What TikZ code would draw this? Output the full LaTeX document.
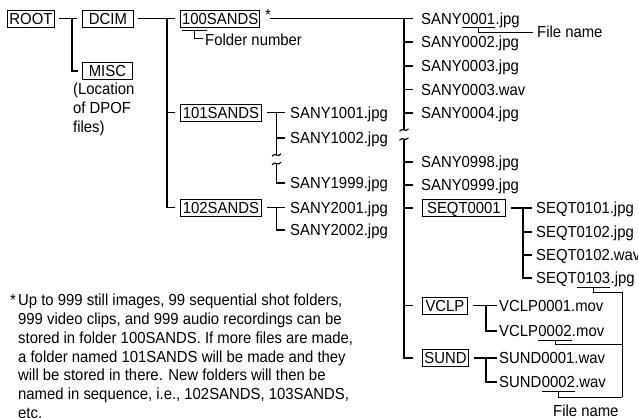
\documentclass[tikz,border=0pt]{standalone}
\usepackage{fontspec}
\setmainfont{Liberation Sans}[FakeStretch=0.93]
\begin{document}
\begin{tikzpicture}[x=1pt,y=-1pt,
  font=\fontsize{16}{18.7}\selectfont,
  box/.style={draw, line width=0.9pt, inner xsep=2pt, inner ysep=0pt, minimum height=17pt, text height=11.5pt, text depth=0pt, anchor=west},
  file/.style={inner sep=0pt, text height=11.5pt, text depth=0pt, anchor=west},
  ln/.style={line width=1.3pt},
  uline/.style={line width=1pt},
  brk/.pic={\draw[line width=1.1pt] (-4.5,1.2) .. controls (-1.5,-3) and (1.5,3) .. (4.5,-1.2);}
]
\useasboundingbox (0,0) rectangle (638,418);

% ---- left part
\node[box, minimum width=46pt] (root) at (7,18.5) {ROOT};
\node[box, minimum width=51pt] (dcim) at (82,18.5) {DCIM};
\node[box, minimum width=50pt] (misc) at (82,71) {MISC};
\node[file] (loc1) at (73,89) {(Location};
\node[file] (loc2) at (73,108) {of DPOF};
\node[file] (loc3) at (73,127) {files)};

\draw[ln] ([xshift=4pt]root.east) -- ([xshift=-5pt]dcim.west);
\coordinate (rj) at (72,18.5);
\draw[ln] (rj) |- ([xshift=-4pt]misc.west);

% ---- folders
\node[box, inner xsep=1.7pt] (s100) at (180,18.5) {100SANDS};
\node[file] (u100) at ([xshift=1.7pt]s100.west) {\phantom{100}};
\node[file] (ast) at (265,15) {*};
\node[file] (fnum) at (205,40) {Folder number};
\draw[uline] ([yshift=-6pt]u100.south west) -- ([yshift=-6pt]u100.south east);
\draw[uline] ([yshift=-6pt]u100.south) |- ([xshift=-2pt,yshift=2pt]fnum.west);

\node[box, minimum width=81pt] (s101) at (180,112.5) {101SANDS};
\node[box, minimum width=81pt] (s102) at (180,207.5) {102SANDS};

\draw[ln] ([xshift=4pt]dcim.east) -- ([xshift=-5pt]s100.west);
\coordinate (dj) at (167,18.5);
\draw[ln] (dj) |- ([xshift=-5pt]s102.west);
\draw[ln] (dj |- s101.west) -- ([xshift=-5pt]s101.west);

% ---- 101SANDS
\node[file] (b1) at (290,112.5) {SANY1001.jpg};
\node[file] (b2) at (290,138) {SANY1002.jpg};
\node[file] (b3) at (290,183) {SANY1999.jpg};
\draw[ln] ([xshift=5pt]s101.east) -- ([xshift=-5pt]b1.west);
\coordinate (j101) at (276.5,112.5);
\coordinate (j101t) at (276.5,155);
\coordinate (j101b) at (276.5,163.5);
\draw[ln] (j101) -- (j101t);
\pic at (j101t) {brk};
\pic at (j101b) {brk};
\draw[ln] (j101b) |- ([xshift=-5pt]b3.west);
\draw[ln] (j101 |- b2.west) -- ([xshift=-5pt]b2.west);

% ---- 102SANDS
\node[file] (c1) at (290,207.5) {SANY2001.jpg};
\node[file] (c2) at (290,230) {SANY2002.jpg};
\draw[ln] ([xshift=5pt]s102.east) -- ([xshift=-5pt]c1.west);
\coordinate (j102) at (276.5,207.5);
\draw[ln] (j102) |- ([xshift=-5pt]c2.west);

% ---- 100SANDS contents
\node[file] (a1a) at (421,18.5) {SANY};
\node[file] (a1b) at (a1a.east) {0001};
\node[file] (a1c) at (a1b.east) {.jpg};
\node[file] (a2) at (421,42) {SANY0002.jpg};
\node[file] (a3) at (421,66) {SANY0003.jpg};
\node[file] (a4) at (421,89.5) {SANY0003.wav};
\node[file] (a5) at (421,113) {SANY0004.jpg};
\node[file] (a6) at (421,162) {SANY0998.jpg};
\node[file] (a7) at (421,185) {SANY0999.jpg};
\node[box, minimum width=83pt] (seqt) at (422,208) {SEQT0001};
\node[box, minimum width=45pt] (vclp) at (422,305.5) {VCLP};
\node[box, minimum width=46pt] (sund) at (422,358) {SUND};

\draw[ln] ([xshift=10pt]s100.east) -- ([xshift=-8pt]a1a.west);
\coordinate (mj) at (404,18.5);
\coordinate (mjt) at (404,130);
\coordinate (mjb) at (404,139);
\draw[ln] (mj) -- (mjt);
\pic at (mjt) {brk};
\pic at (mjb) {brk};
\draw[ln] (mjb) -- (mj |- sund.west) -- ([xshift=-9pt]sund.west);
\foreach \n in {a2,a3,a4,a5,a6,a7}
  \draw[ln] (mj |- \n.west) -- ([xshift=-8pt]\n.west);
\draw[ln] (mj |- seqt.west) -- ([xshift=-9pt]seqt.west);
\draw[ln] (mj |- vclp.west) -- ([xshift=-9pt]vclp.west);

% File name (top)
\node[file] (fn1) at (537,32) {File name};
\draw[uline] ([yshift=-3.5pt]a1b.south west) -- ([yshift=-3.5pt]a1b.south east);
\draw[uline] ([yshift=-3.5pt]a1b.south) |- ([xshift=-4pt]fn1.west);

% ---- SEQT0001
\node[file] (q1) at (536,208) {SEQT0101.jpg};
\node[file] (q2) at (536,232) {SEQT0102.jpg};
\node[file] (q3) at (536,255) {SEQT0102.wav};
\node[file] (q4a) at (536,278) {SEQT};
\node[file] (q4b) at (q4a.east) {0103};
\node[file] (q4c) at (q4b.east) {.jpg};
\draw[ln] ([xshift=5pt]seqt.east) -- ([xshift=-4pt]q1.west);
\coordinate (jq) at (523,208);
\draw[ln] (jq) |- ([xshift=-4pt]q4a.west);
\foreach \n in {q2,q3}
  \draw[ln] (jq |- \n.west) -- ([xshift=-4pt]\n.west);

% ---- VCLP
\node[file] (v1) at (499,305.5) {VCLP0001.mov};
\node[file] (v2a) at (499,331) {VCLP};
\node[file] (v2b) at (v2a.east) {0002};
\node[file] (v2c) at (v2b.east) {.mov};
\draw[ln] ([xshift=5pt]vclp.east) -- ([xshift=-2pt]v1.west);
\coordinate (jv) at (486,305.5);
\draw[ln] (jv) |- ([xshift=-2pt]v2a.west);

% ---- SUND
\node[file] (w1) at (499,358) {SUND0001.wav};
\node[file] (w2a) at (499,382) {SUND};
\node[file] (w2b) at (w2a.east) {0002};
\node[file] (w2c) at (w2b.east) {.wav};
\draw[ln] ([xshift=5pt]sund.east) -- ([xshift=-2pt]w1.west);
\coordinate (jw) at (486,358);
\draw[ln] (jw) |- ([xshift=-2pt]w2a.west);

% File name (bottom)
\node[file] (fn2) at (553,410.5) {File name};
\coordinate (rt) at (622,292);
\coordinate (rv) at (622,344);
\coordinate (rb) at (622,397);
\foreach \n in {q4b,v2b,w2b}
  \draw[uline] ([yshift=-3.5pt]\n.south west) -- ([yshift=-3.5pt]\n.south east);
\draw[uline] ([yshift=-3.5pt]q4b.south) |- (rt) -- (rb);
\draw[uline] ([yshift=-3.5pt]v2b.south) |- (rv);
\draw[uline] ([yshift=-3.5pt]w2b.south) |- (rb);

% ---- footnote
\node[file] (fs) at (10,300) {*};
\node[file] (ft1) at (18,300) {Up to 999 still images, 99 sequential shot folders,};
\node[file] (ft2) at (18,318.8) {999 video clips, and 999 audio recordings can be};
\node[file] (ft3) at (18,337.6) {stored in folder 100SANDS. If more files are made,};
\node[file] (ft4) at (18,356.4) {a folder named 101SANDS will be made and they};
\node[file] (ft5) at (18,375.2) {will be stored in there. New folders will then be};
\node[file] (ft6) at (18,394) {named in sequence, i.e., 102SANDS, 103SANDS,};
\node[file] (ft7) at (18,412.8) {etc.};
\end{tikzpicture}
\end{document}
